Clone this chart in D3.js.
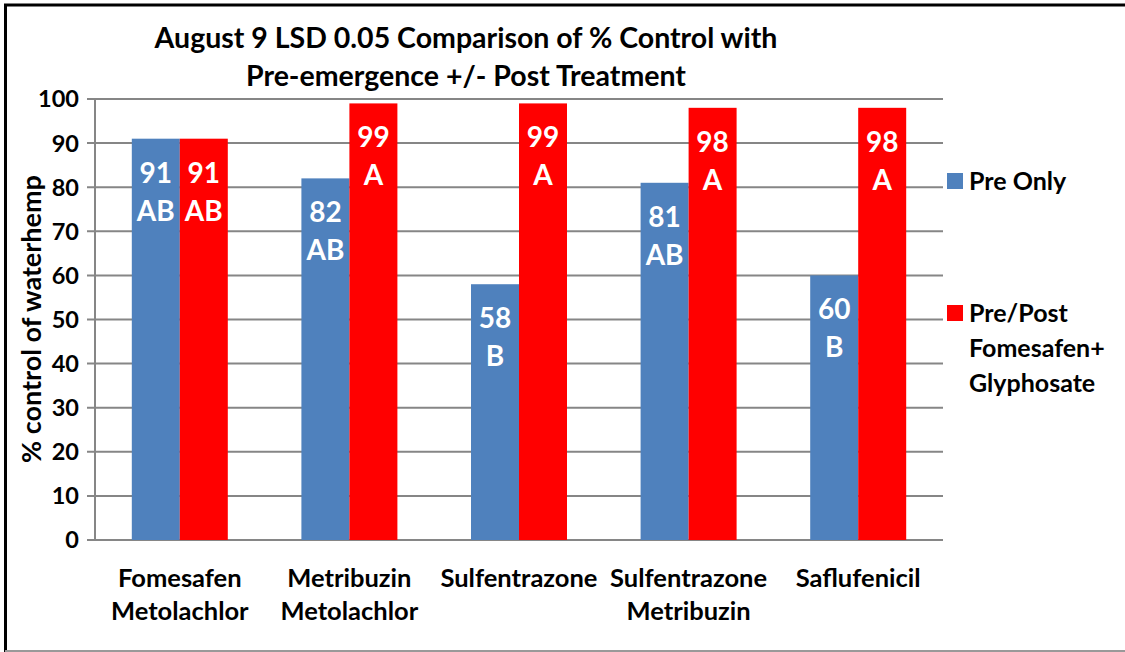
<!DOCTYPE html>
<html><head><meta charset="utf-8">
<script src="https://cdn.jsdelivr.net/npm/d3@7"></script>
<style>body{margin:0;background:#fff}svg{display:block}text{font-family:Lato,"Open Sans",sans-serif;font-weight:bold}</style>
</head><body><svg id="c" width="1125" height="652"></svg>
<script>
const categories = [["Fomesafen","Metolachlor"],["Metribuzin","Metolachlor"],["Sulfentrazone"],["Sulfentrazone","Metribuzin"],["Saflufenicil"]];
const preOnly = [91,82,58,81,60];
const prePost = [91,99,99,98,98];
const preLetters = ["AB","AB","B","AB","B"];
const prePostLetters = ["AB","A","A","A","A"];
const seriesNames = [["Pre Only"],["Pre/Post","Fomesafen+","Glyphosate"]];
const colors = ["#4F81BD","#FF0000"];
const yTicks = [0,10,20,30,40,50,60,70,80,90,100];
const titleLines = ["August 9 LSD 0.05 Comparison of % Control with","Pre-emergence +/- Post Treatment"];
const yTitle = "% control of waterhemp";

const svg = d3.select("#c");
// frame
svg.append("line").attr("x1",4).attr("x2",1125).attr("y1",5).attr("y2",5).attr("stroke","#000").attr("stroke-width",3);
svg.append("line").attr("x1",5.5).attr("x2",5.5).attr("y1",4).attr("y2",652).attr("stroke","#000").attr("stroke-width",3);
svg.append("line").attr("x1",5).attr("x2",1125).attr("y1",651).attr("y2",651).attr("stroke","#999").attr("stroke-width",2);

const L=95,R=943,T=99,B=540;
const x = d3.scaleBand().domain(d3.range(categories.length)).range([L,R]).paddingInner(0.434).paddingOuter(0.217);
const xs = d3.scaleBand().domain([0,1]).range([0,x.bandwidth()]);
const y = d3.scaleLinear().domain([0,100]).range([B,T]);

// grid
svg.append("g").selectAll("line").data(yTicks).join("line")
  .attr("x1",L-8).attr("x2",R).attr("y1",d=>y(d)).attr("y2",d=>y(d))
  .attr("stroke","#868686").attr("stroke-width",2);
svg.append("line").attr("x1",L).attr("x2",L).attr("y1",T).attr("y2",B).attr("stroke","#868686").attr("stroke-width",2);
svg.append("g").selectAll("text").data(yTicks).join("text")
  .attr("x",L-16).attr("y",d=>y(d)).attr("dy","0.36em").attr("text-anchor","end")
  .attr("font-size",23.5).text(d=>d);

const series=[preOnly,prePost], letters=[preLetters,prePostLetters];
series.forEach((vals,s)=>{
  const g=svg.append("g");
  g.selectAll("rect").data(vals).join("rect")
    .attr("x",(d,i)=>x(i)+xs(s)).attr("width",xs.bandwidth())
    .attr("y",d=>y(d)).attr("height",d=>B-y(d)).attr("fill",colors[s]);
  g.selectAll("text.v").data(vals).join("text").attr("class","v")
    .attr("x",(d,i)=>x(i)+xs(s)+xs.bandwidth()/2).attr("y",d=>y(d)+34).attr("dy","0.36em")
    .attr("text-anchor","middle").attr("fill","#fff").attr("font-size",28).text(d=>d);
  g.selectAll("text.l").data(vals).join("text").attr("class","l")
    .attr("x",(d,i)=>x(i)+xs(s)+xs.bandwidth()/2).attr("y",d=>y(d)+72).attr("dy","0.36em")
    .attr("text-anchor","middle").attr("fill","#fff").attr("font-size",28).text((d,i)=>letters[s][i]);
});

// x labels
categories.forEach((lines,i)=>{
  lines.forEach((t,j)=>{
    svg.append("text").attr("x",x(i)+x.bandwidth()/2).attr("y",578+j*33).attr("dy","0.36em")
      .attr("text-anchor","middle").attr("font-size",25.5).text(t);
  });
});

// title
titleLines.forEach((t,j)=>svg.append("text").attr("x",466).attr("y",38+j*38).attr("dy","0.36em")
  .attr("text-anchor","middle").attr("font-size",28.5).text(t));

// y title
svg.append("text").attr("transform","translate(31,319) rotate(-90)").attr("dy","0.36em")
  .attr("text-anchor","middle").attr("font-size",27).text(yTitle);

// legend
const legY=[181,313];
seriesNames.forEach((lines,s)=>{
  svg.append("rect").attr("x",947).attr("y",legY[s]-8).attr("width",16).attr("height",16).attr("fill",colors[s]);
  lines.forEach((t,j)=>svg.append("text").attr("x",969).attr("y",legY[s]+j*35).attr("dy","0.36em")
    .attr("font-size",25).text(t));
});
</script></body></html>
